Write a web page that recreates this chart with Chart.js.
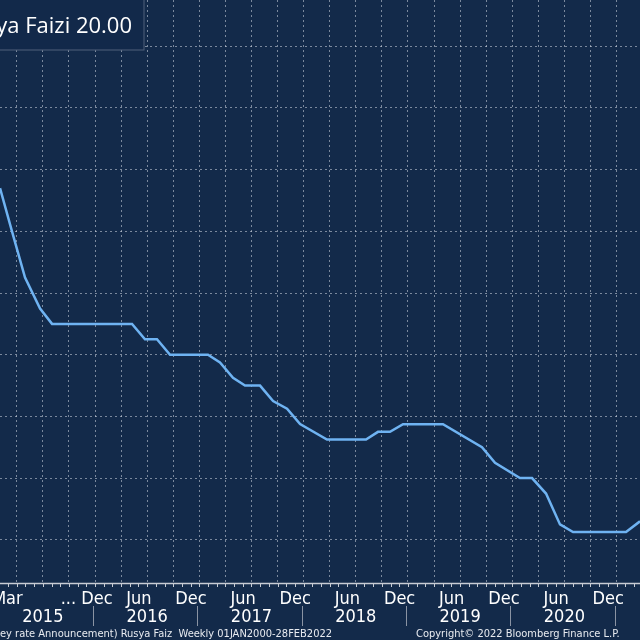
<!DOCTYPE html>
<html><head><meta charset="utf-8">
<script src="https://cdn.jsdelivr.net/npm/chart.js@4/dist/chart.umd.min.js"></script>
<style>html,body{margin:0;padding:0;background:#132a4a;}canvas{display:block;}</style>
</head><body>
<canvas id="c" width="640" height="640"></canvas>
<script>
// Decimal-year dates and key-rate values (%)
const dates = [2015.089,2015.204,2015.329,2015.473,2015.588,2016.355,2016.479,2016.594,2016.719,2017.083,2017.198,2017.323,2017.438,2017.582,2017.707,2017.841,2017.966,2018.224,2018.598,2018.713,2018.828,2018.953,2019.336,2019.710,2019.835,2020.074,2020.190,2020.324,2020.458,2020.583,2021.091,2021.225];
const rates = [15.4,14.0,12.5,11.5,11.0,11.0,10.5,10.5,10.0,10.0,9.75,9.25,9.0,9.0,8.5,8.25,7.75,7.25,7.25,7.5,7.5,7.75,7.75,7.0,6.5,6.0,6.0,5.5,4.5,4.25,4.25,4.6];
const yTicks = [4,6,8,10,12,14,16,18,20];
const monthLabels = [[2015.16,'Mar'],[2015.92,'... Dec'],[2016.42,'Jun'],[2016.92,'Dec'],[2017.42,'Jun'],[2017.92,'Dec'],[2018.42,'Jun'],[2018.92,'Dec'],[2019.42,'Jun'],[2019.92,'Dec'],[2020.42,'Jun'],[2020.92,'Dec']];
const years = [2015,2016,2017,2018,2019,2020];
const seriesName = 'Rusya Faizi';
const lastValue = '20.00';

const deco = {
  id:'deco',
  beforeDraw(ch){const c=ch.ctx;c.save();c.fillStyle='#132a4a';c.fillRect(0,0,ch.width,ch.height);c.restore();},
  afterDraw(ch){
    const c=ch.ctx, xs=ch.scales.x, a=ch.chartArea;
    c.save();
    c.strokeStyle='#c8ccd4';c.lineWidth=1.5;
    c.beginPath();c.moveTo(0,a.bottom+0.5);c.lineTo(640,a.bottom+0.5);c.stroke();
    c.lineWidth=1;
    for(let q=2015;q<=2021.3;q+=1/12){const px=Math.round(xs.getPixelForValue(q))+0.5;c.beginPath();c.moveTo(px,a.bottom);c.lineTo(px,a.bottom+4);c.stroke();}
    c.fillStyle='#ffffff';c.font='18px "DejaVu Sans Condensed", "Liberation Sans Narrow", sans-serif';c.textAlign='center';c.textBaseline='middle';
    monthLabels.forEach(([v,t])=>c.fillText(t,xs.getPixelForValue(v),599));
    years.forEach(y=>c.fillText(String(y),xs.getPixelForValue(y+0.5),617));
    c.strokeStyle='#8a93a3';
    years.forEach(y=>{const px=Math.round(xs.getPixelForValue(y+1))-1.5;c.beginPath();c.moveTo(px,606);c.lineTo(px,626);c.stroke();});
    c.font='11px "DejaVu Sans Condensed", sans-serif';c.textAlign='left';c.fillStyle='#e8ebf0';
    c.fillText('ey rate Announcement) Rusya Faiz  Weekly 01JAN2000-28FEB2022',0,634);
    c.fillText('Copyright\u00a9 2022 Bloomberg Finance L.P.',416,634);
    // legend box
    c.fillStyle='#12294a';c.fillRect(-2,0,146,50);
    c.strokeStyle='#51607a';c.lineWidth=1;c.strokeRect(-2,-1,146,51);
    c.fillStyle='#ffffff';c.font='22px "Open Sans", sans-serif';c.textAlign='right';
    c.fillText(seriesName+' '+lastValue,132,27);
    c.restore();
  }
};

new Chart(document.getElementById('c'),{
  type:'line',
  data:{datasets:[{data:dates.map((d,i)=>({x:d,y:rates[i]})),borderColor:'#6fb3f2',borderWidth:2.5,pointRadius:0,tension:0,fill:false}]},
  options:{
    responsive:false,animation:false,
    layout:{padding:{left:0,right:0,top:0,bottom:57}},
    plugins:{legend:{display:false},tooltip:{enabled:false}},
    scales:{
      x:{type:'linear',min:2015.089,max:2021.225,
        afterBuildTicks(s){const t=[];for(let q=2015.25;q<=2021.25;q+=0.25)t.push({value:q});s.ticks=t;},
        ticks:{display:false},
        grid:{color:'rgba(210,215,225,0.55)',lineWidth:1,drawTicks:false},
        border:{display:false,dash:[2,3]}},
      y:{min:2.6,max:21.5,
        afterBuildTicks(s){s.ticks=yTicks.map(v=>({value:v}));},
        ticks:{display:false},
        grid:{color:'rgba(210,215,225,0.55)',lineWidth:1,drawTicks:false},
        border:{display:false,dash:[2,3]}}
    }
  },
  plugins:[deco]
});
</script>
</body></html>
